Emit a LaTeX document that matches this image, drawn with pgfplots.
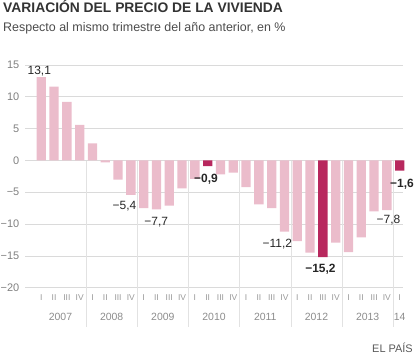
\documentclass[border=0pt]{standalone}
\usepackage{fontspec}
\setmainfont{Liberation Sans}
\usepackage{pgfplots}
\pgfplotsset{compat=1.18}
\definecolor{barlight}{HTML}{EBBCCB}
\definecolor{bardark}{HTML}{B8285E}
\definecolor{gridc}{HTML}{DADADA}
\definecolor{sepc}{HTML}{E2E2E2}
\begin{document}
\begin{tikzpicture}[x=1bp,y=1bp]
\path[use as bounding box] (0,0) rectangle (414,355);
\node[anchor=base west, inner sep=0, text=black!80, font=\fontsize{13.9}{15}\selectfont\bfseries] at (3,342.3) {VARIACIÓN DEL PRECIO DE LA VIVIENDA};
\node[anchor=base west, inner sep=0, text=black!70, font=\fontsize{12.5}{14}\selectfont] at (3,323.3) {Respecto al mismo trimestre del año anterior, en \%};
\node[anchor=base east, inner sep=0, text=black!65, font=\fontsize{11}{13}\selectfont] at (413,2.5) {EL PAÍS};
\begin{axis}[
  at={(25bp,67.3bp)}, anchor=south west,
  scale only axis, width=378bp, height=222.7bp,
  xmin=-1.27, xmax=28.26, ymin=-20, ymax=15,
  clip=false,
  axis line style={draw=none},
  tick style={draw=none},
  ymajorgrids, major grid style={gridc, line width=0.7bp},
  ytick={-20,-15,...,15},
  yticklabels={−20,−15,−10,−5,0,5,10,15},
  yticklabel style={anchor=east, inner sep=0pt, xshift=-5.5bp, font=\fontsize{11}{13}\selectfont, text=black!50},
  xtick={0,...,28},
  xticklabels={I,II,III,IV,I,II,III,IV,I,II,III,IV,I,II,III,IV,I,II,III,IV,I,II,III,IV,I,II,III,IV,I},
  xticklabel style={anchor=center, inner sep=0pt, yshift=-10.3bp, font=\fontsize{8.5}{10}\selectfont, text=black!40},
]
\draw[sepc, line width=0.7bp] (axis cs:3.5,0) -- (axis cs:3.5,-26.1);
\draw[sepc, line width=0.7bp] (axis cs:7.5,0) -- (axis cs:7.5,-26.1);
\draw[sepc, line width=0.7bp] (axis cs:11.5,0) -- (axis cs:11.5,-26.1);
\draw[sepc, line width=0.7bp] (axis cs:15.5,0) -- (axis cs:15.5,-26.1);
\draw[sepc, line width=0.7bp] (axis cs:19.5,0) -- (axis cs:19.5,-26.1);
\draw[sepc, line width=0.7bp] (axis cs:23.5,0) -- (axis cs:23.5,-26.1);
\draw[sepc, line width=0.7bp] (axis cs:27.5,0) -- (axis cs:27.5,-26.1);
\draw[gridc, line width=0.7bp] (axis cs:-1.27,0) -- (axis cs:28.26,0);

\addplot[ybar, bar width=9.3bp, bar shift=0pt, fill=barlight, draw=none] coordinates {
(0,13.1) (1,11.6) (2,9.2) (3,5.6) (4,2.7) (5,-0.3) (6,-3.0) (7,-5.4) (8,-7.5) (9,-7.7)
(10,-7.1) (11,-4.4) (12,-2.9) (14,-2.2) (15,-1.9) (16,-4.2) (17,-6.9) (18,-7.5) (19,-11.2)
(20,-12.7) (21,-14.5) (23,-12.9) (24,-14.4) (25,-12.1) (26,-8.0) (27,-7.8)
};
\addplot[ybar, bar width=9.3bp, bar shift=0pt, fill=bardark, draw=none] coordinates {
(13,-0.9) (22,-15.2) (28,-1.6)
};

\begin{scope}[every node/.style={inner sep=0pt, text=black!85, font=\fontsize{12}{14}\selectfont}]
\node[anchor=base] at (axis cs:-0.15,13.43) {13,1};
\node[anchor=north] at (axis cs:6.5,-6.43) {−5,4};
\node[anchor=north] at (axis cs:8.98,-8.96) {−7,7};
\node[anchor=north] at (axis cs:18.45,-12.37) {−11,2};
\node[anchor=north] at (axis cs:27.13,-8.58) {−7,8};
\node[anchor=north, font=\fontsize{12}{14}\selectfont\bfseries] at (axis cs:12.87,-2.1) {−0,9};
\node[anchor=north, font=\fontsize{12}{14}\selectfont\bfseries] at (axis cs:21.81,-16.3) {−15,2};
\node[anchor=north, font=\fontsize{12}{14}\selectfont\bfseries] at (axis cs:28.18,-2.89) {−1,6};
\end{scope}

\begin{scope}[every node/.style={inner sep=0pt, text=black!45, font=\fontsize{10.5}{12}\selectfont}]
\node at (axis cs:1.5,-24.57) {2007};
\node at (axis cs:5.5,-24.57) {2008};
\node at (axis cs:9.5,-24.57) {2009};
\node at (axis cs:13.5,-24.57) {2010};
\node at (axis cs:17.5,-24.57) {2011};
\node at (axis cs:21.5,-24.57) {2012};
\node at (axis cs:25.5,-24.57) {2013};
\node at (axis cs:28,-24.57) {14};
\end{scope}
\end{axis}
\end{tikzpicture}
\end{document}
